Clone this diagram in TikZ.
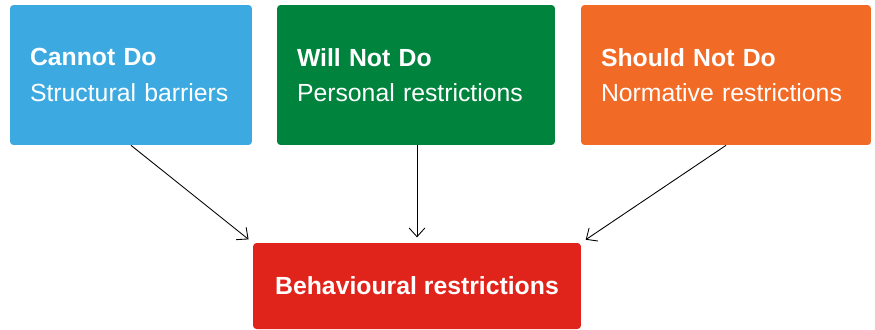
\documentclass[tikz,border=0pt]{standalone}
\usepackage{fontspec}
\setmainfont{Liberation Sans}
\usetikzlibrary{positioning,arrows.meta}

\definecolor{cblue}{HTML}{3CAAE1}
\definecolor{cgreen}{HTML}{00843D}
\definecolor{corange}{HTML}{F16B26}
\definecolor{cred}{HTML}{E1241B}

\begin{document}
\begin{tikzpicture}[
        x=0.02cm, y=-0.02cm,
        cat/.style = {rectangle, rounded corners=2pt, text=white, align=left,
                      minimum height=2.8cm, text width=4.04cm, inner xsep=0.4cm,
                      font=\fontsize{14.1}{20}\selectfont},
        res/.style = {rectangle, rounded corners=2pt, text=white, fill=cred,
                      minimum width=6.56cm, minimum height=1.72cm,
                      font=\fontsize{14.1}{20}\selectfont\bfseries},
        arr/.style = {-{Straight Barb[length=5pt,width=9pt]}, line width=0.5pt, shorten >=3pt},
        ]
        \useasboundingbox (0,0) rectangle (875,329);
        % three kinds of restriction
        \node[cat, fill=cblue](cannot) at (131,75) {\textbf{Cannot Do}\\Structural barriers};
        \node[cat, fill=cgreen, text width=4.76cm](willnot) at (416,75) {\textbf{Will Not Do}\\Personal restrictions};
        \node[cat, fill=corange, text width=5.0cm](shouldnot) at (726,75) {\textbf{Should Not Do}\\Normative restrictions};

        \node[res](behav) at (417,286) {Behavioural restrictions};

        \draw[arr] (cannot.south) -- (behav.north west);
        \draw[arr] (willnot.south -| behav.north) -- (behav.north);
        \draw[arr] (shouldnot.south) -- (behav.north east);
\end{tikzpicture}
\end{document}
